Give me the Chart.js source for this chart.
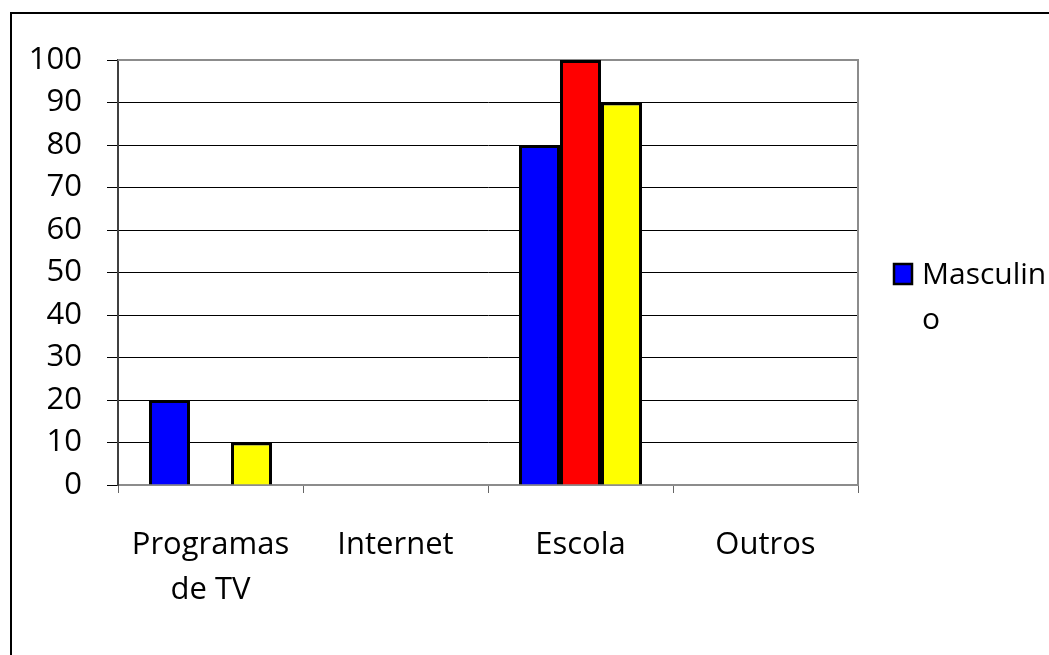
<!DOCTYPE html>
<html><head><meta charset="utf-8">
<script src="https://cdn.jsdelivr.net/npm/chart.js@4/dist/chart.umd.min.js"></script>
<style>html,body{margin:0;padding:0;background:#fff}#wrap{width:1049px;height:655px;position:relative}</style>
</head><body><div id="wrap"><canvas id="c" width="1049" height="655"></canvas></div>
<script>
const categories = [['Programas','de TV'], 'Internet', 'Escola', 'Outros'];
const seriesNames = ['Masculino', 'Série 2', 'Série 3'];
const masculino = [20, 0, 80, 0];
const serie2 = [0, 0, 100, 0];
const serie3 = [10, 0, 90, 0];
const yTickValues = [0, 10, 20, 30, 40, 50, 60, 70, 80, 90, 100];
const seriesColors = ['#0000FF', '#FF0000', '#FFFF00'];
const legendSeries = [0];

const FONT = "'Open Sans', sans-serif";

const framePlugin = {
  id: 'frame',
  beforeDraw(chart) {
    const ctx = chart.ctx;
    ctx.save();
    ctx.fillStyle = '#fff';
    ctx.fillRect(0, 0, chart.width, chart.height);
    ctx.strokeStyle = '#000';
    ctx.lineWidth = 2;
    ctx.strokeRect(11, 13, chart.width + 20, chart.height + 20);
    ctx.restore();
  },
  beforeDatasetsDraw(chart) {
    const a = chart.chartArea, ctx = chart.ctx;
    ctx.save();
    ctx.strokeStyle = '#8c8c8c';
    ctx.lineWidth = 2;
    ctx.beginPath();
    ctx.moveTo(a.left, a.top);
    ctx.lineTo(a.right, a.top);
    ctx.lineTo(a.right, a.bottom);
    ctx.stroke();
    ctx.restore();
  },
  afterDraw(chart) {
    const ctx = chart.ctx;
    ctx.save();
    ctx.font = '30px ' + FONT;
    ctx.textBaseline = 'middle';
    let y = 275;
    legendSeries.forEach(i => {
      const ds = chart.data.datasets[i];
      const bx = 894, by = y - 11, bw = 18, bh = 20;
      ctx.fillStyle = ds.backgroundColor;
      ctx.fillRect(bx, by, bw, bh);
      ctx.strokeStyle = '#000';
      ctx.lineWidth = 2.5;
      ctx.strokeRect(bx, by, bw, bh);
      const maxW = chart.width - 922;
      const lines = [];
      let cur = '';
      for (const ch of ds.label) {
        if (ctx.measureText(cur + ch).width > maxW && cur) { lines.push(cur); cur = ch; }
        else cur += ch;
      }
      if (cur) lines.push(cur);
      ctx.fillStyle = '#000';
      lines.forEach((ln, k) => ctx.fillText(ln, 922, y + k * 45));
      y += lines.length * 45;
    });
    ctx.restore();
  }
};

const datasets = [masculino, serie2, serie3].map((d, i) => ({
  label: seriesNames[i],
  data: d,
  backgroundColor: seriesColors[i],
  borderColor: '#000',
  borderWidth: 3,
  borderSkipped: 'bottom',
  categoryPercentage: 0.665,
  barPercentage: 1.0
}));

new Chart(document.getElementById('c'), {
  type: 'bar',
  data: { labels: categories, datasets },
  options: {
    responsive: false,
    devicePixelRatio: 1,
    animation: false,
    layout: { padding: { left: 0, top: 60, right: 191, bottom: 0 } },
    plugins: { legend: { display: false }, tooltip: { enabled: false } },
    scales: {
      x: {
        offset: true,
        grid: { offset: true, drawOnChartArea: false, drawTicks: true, tickLength: 8, color: '#666', lineWidth: 1 },
        border: { display: true, color: '#8c8c8c', width: 2 },
        ticks: { font: { family: FONT, size: 31, lineHeight: 1.45 }, color: '#000', padding: 30, maxRotation: 0, autoSkip: false },
        afterFit(scale) { scale.height = 170; }
      },
      y: {
        min: 0, max: 100,
        afterBuildTicks(scale) { scale.ticks = yTickValues.map(v => ({ value: v })); },
        grid: { color: '#000', lineWidth: 1, drawTicks: true, tickLength: 11 },
        border: { display: true, color: '#404040', width: 2 },
        ticks: { font: { family: FONT, size: 31 }, color: '#000', padding: 25, autoSkip: false },
        afterFit(scale) { scale.width = 118; }
      }
    }
  },
  plugins: [framePlugin]
});
</script></body></html>
